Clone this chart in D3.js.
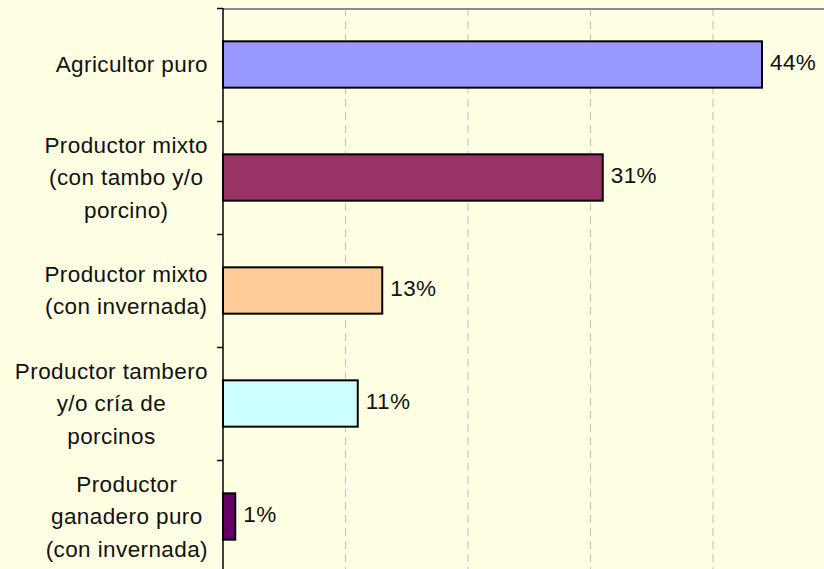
<!DOCTYPE html>
<html>
<head>
<meta charset="utf-8">
<script src="https://cdn.jsdelivr.net/npm/d3@7"></script>
<style>
  body { margin: 0; background: #FFFFE3; }
  svg { display: block; }
  text { font-family: Arial, "Liberation Sans", sans-serif; fill: #111; letter-spacing: 0.4px; }
</style>
</head>
<body>
<div class="chart"></div>
<script>
var svgWidth = 824;
var svgHeight = 569;

// data
var categories = [
  ["Agricultor puro"],
  ["Productor mixto", "(con tambo y/o", "porcino)"],
  ["Productor mixto", "(con invernada)"],
  ["Productor tambero", "y/o cría de", "porcinos"],
  ["Productor", "ganadero puro", "(con invernada)"]
];
var values = [44, 31, 13, 11, 1];
var barColors = ["#9999FF", "#993366", "#FFCC99", "#CCFFFF", "#660066"];
var gridTicks = [10, 20, 30, 40];

var plot = { left: 223, top: 8, right: 835.5, bottom: 573 };
var labelRight = 208;
var fontSize = 22.5;
var lineGap = 32.5;

var svg = d3.select(".chart")
  .append("svg")
  .attr("width", svgWidth)
  .attr("height", svgHeight);

svg.append("rect")
  .attr("width", svgWidth)
  .attr("height", svgHeight)
  .attr("fill", "#FFFFE3");

var idx = d3.range(values.length);

var xScale = d3.scaleLinear()
  .domain([0, 50])
  .range([plot.left, plot.right]);

var yScale = d3.scaleBand()
  .domain(idx)
  .range([plot.top, plot.bottom])
  .paddingInner(0.59)
  .paddingOuter(0.295);

var step = yScale.step();

// dashed vertical gridlines
svg.append("g")
  .selectAll("line")
  .data(gridTicks)
  .enter()
  .append("line")
  .attr("x1", d => xScale(d))
  .attr("x2", d => xScale(d))
  .attr("y1", plot.top)
  .attr("y2", plot.bottom)
  .attr("stroke", "#C0C0C0")
  .attr("stroke-width", 1)
  .attr("stroke-dasharray", "8,5");

// plot area border (only top is visible)
svg.append("line")
  .attr("x1", plot.left)
  .attr("x2", svgWidth)
  .attr("y1", plot.top + 1)
  .attr("y2", plot.top + 1)
  .attr("stroke", "#8C8C8C")
  .attr("stroke-width", 2);

// bars
svg.append("g")
  .selectAll("rect")
  .data(idx)
  .enter()
  .append("rect")
  .attr("x", xScale(0))
  .attr("y", i => yScale(i))
  .attr("width", i => xScale(values[i]) - xScale(0))
  .attr("height", yScale.bandwidth())
  .attr("fill", i => barColors[i])
  .attr("stroke", "#000")
  .attr("stroke-width", 2);

// value labels
svg.append("g")
  .selectAll("text")
  .data(idx)
  .enter()
  .append("text")
  .attr("x", i => xScale(values[i]) + 8)
  .attr("y", i => yScale(i) + yScale.bandwidth() / 2 + 5)
  .attr("font-size", fontSize)
  .text(i => values[i] + "%");

// category axis with ticks at band boundaries
var tickPos = idx.map(i => yScale(i) - step * yScale.paddingInner() / 2).concat([plot.bottom]);
svg.append("g")
  .selectAll("line")
  .data(tickPos)
  .enter()
  .append("line")
  .attr("x1", plot.left - 6)
  .attr("x2", plot.left)
  .attr("y1", d => d + 0.5)
  .attr("y2", d => d + 0.5)
  .attr("stroke", "#000")
  .attr("stroke-width", 1.5);

svg.append("line")
  .attr("x1", plot.left)
  .attr("x2", plot.left)
  .attr("y1", plot.top)
  .attr("y2", svgHeight)
  .attr("stroke", "#000")
  .attr("stroke-width", 1.5);

// category labels: lines centred on each other, block right-aligned
var labels = svg.append("g");
idx.forEach(function(i) {
  var lines = categories[i];
  var cy = yScale(i) + yScale.bandwidth() / 2;
  var g = labels.append("g");
  var texts = g.selectAll("text")
    .data(lines)
    .enter()
    .append("text")
    .attr("font-size", fontSize)
    .attr("text-anchor", "middle")
    .attr("y", (d, j) => cy + 7.5 + (j - (lines.length - 1) / 2) * lineGap)
    .text(d => d);
  var w = d3.max(texts.nodes(), n => n.getComputedTextLength());
  texts.attr("x", labelRight - w / 2);
});
</script>
</body>
</html>
